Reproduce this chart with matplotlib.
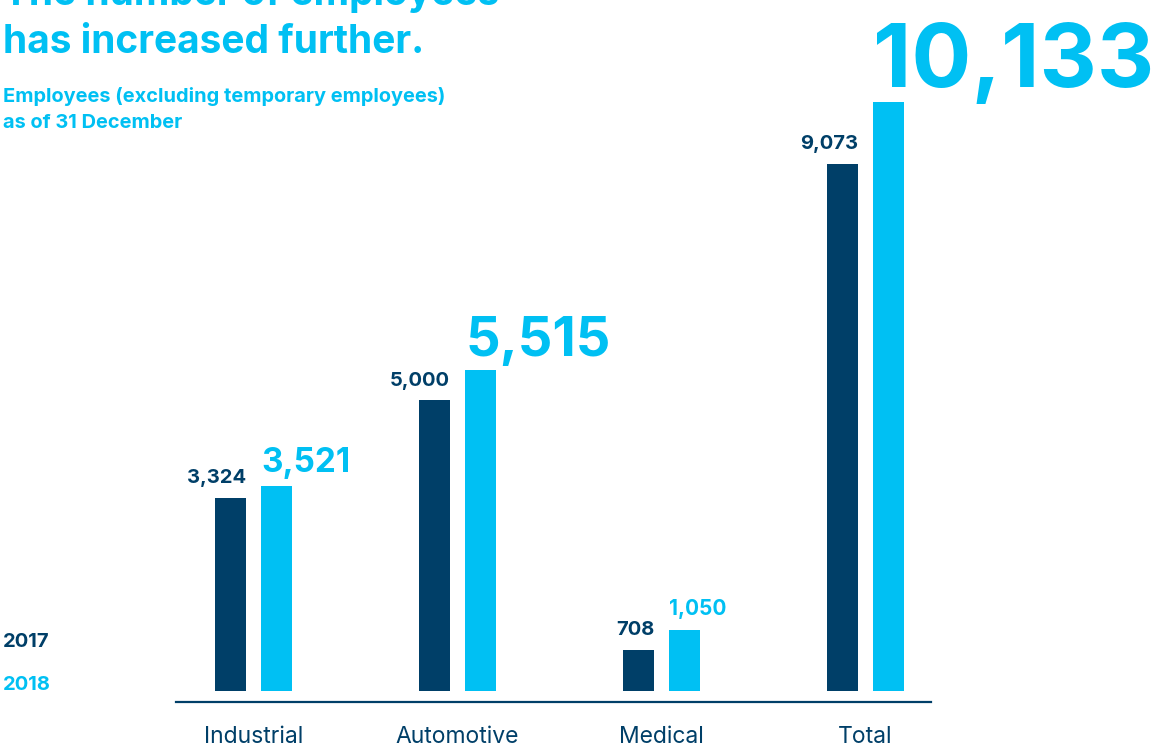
import numpy as np
import matplotlib
matplotlib.use("Agg")
import matplotlib.pyplot as plt

NAVY = '#003f68'
CYAN = '#00c0f3'

categories = ['Industrial', 'Automotive', 'Medical', 'Total']
years = ['2017', '2018']
employees_2017 = [3324, 5000, 708, 9073]
employees_2018 = [3521, 5515, 1050, 10133]

# label sizes for the 2018 figures grow with the bar
size_2018 = [24, 39, 15, 64]
size_2017 = 14.5

plt.rcParams['font.family'] = ['Inter', 'DejaVu Sans']

W, H = 1156, 746
fig = plt.figure(figsize=(W / 100, H / 100), dpi=100)

def fx(px):
    return px / W

def fy(px):
    return 1 - px / H

# plot area: x from 176 to 931 px, baseline line at 702 px
ax = fig.add_axes([fx(176), fy(702), fx(931) - fx(176), fy(0) - fy(702)])
ax.set_xlim(-0.38, 3.321)
ax.set_ylim(-189, 11887)

x = np.arange(len(categories))
off = 0.1127
width = 0.152

b17 = ax.bar(x - off, employees_2017, width, color=NAVY)
b18 = ax.bar(x + off, employees_2018, width, color=CYAN)

for i, v in enumerate(employees_2017):
    ax.annotate(f'{v:,}', (x[i] - off + width / 2, v), xytext=(0, 10.5),
                textcoords='offset points', ha='right', va='baseline',
                fontsize=size_2017, fontweight='bold', color=NAVY)
for i, v in enumerate(employees_2018):
    ax.annotate(f'{v:,}', (x[i] + off - width / 2, v), xytext=(0, 10.5),
                textcoords='offset points', ha='left', va='baseline',
                fontsize=size_2018[i], fontweight='bold', color=CYAN,
                annotation_clip=False)

for s in ['top', 'right', 'left']:
    ax.spines[s].set_visible(False)
ax.spines['bottom'].set_color(NAVY)
ax.spines['bottom'].set_linewidth(1.6)
ax.set_yticks([])
ax.set_xticks(x)
ax.set_xticklabels(categories, fontsize=16.5, color=NAVY)
ax.tick_params(axis='x', length=0, pad=17)

# heading (first line runs off the top edge)
fig.text(fx(3), fy(5), 'The number of employees', fontsize=28, fontweight='bold',
         color=CYAN, ha='left', va='baseline')
fig.text(fx(3), fy(53), 'has increased further.', fontsize=28, fontweight='bold',
         color=CYAN, ha='left', va='baseline')
fig.text(fx(3), fy(102), 'Employees (excluding temporary employees)', fontsize=14.4,
         fontweight='bold', color=CYAN, ha='left', va='baseline')
fig.text(fx(3), fy(128), 'as of 31 December', fontsize=14.4,
         fontweight='bold', color=CYAN, ha='left', va='baseline')

# year key
fig.text(fx(3), fy(647), years[0], fontsize=14.5, fontweight='bold', color=NAVY,
         ha='left', va='baseline')
fig.text(fx(3), fy(690), years[1], fontsize=14.5, fontweight='bold', color=CYAN,
         ha='left', va='baseline')

fig.savefig('out.png', dpi=100)
